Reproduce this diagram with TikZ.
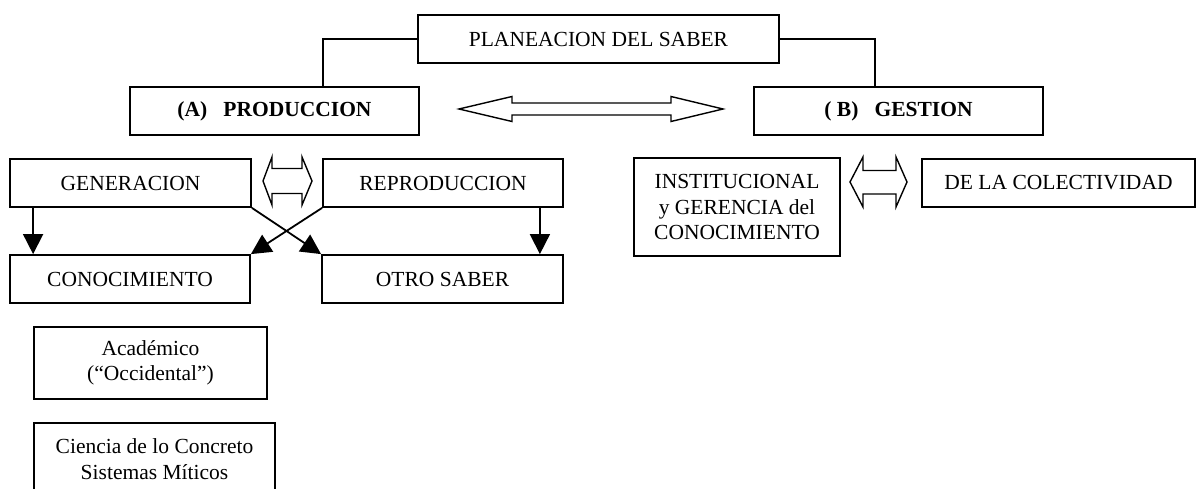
\documentclass[tikz,border=0pt]{standalone}
\usepackage{fontspec}
\setmainfont{Liberation Serif}
\usetikzlibrary{arrows.meta}
\tikzset{
  box/.style={draw, line width=1.8bp, inner sep=0pt, align=center,
    font=\fontsize{21.5bp}{25.5bp}\selectfont},
  link/.style={line width=1.8bp},
  downarrow/.style={line width=1.8bp, -{Triangle[length=20bp,width=20bp]}},
  blockarrow/.style={draw, line width=1.4bp, fill=white, line join=miter}
}
\begin{document}
\begin{tikzpicture}[x=1bp,y=-1bp]
\clip (0,0) rectangle (1198,489);
\fill[white] (0,0) rectangle (1198,489);

\node[box, minimum width=361bp, minimum height=48bp] (plan) at (598.5,39) {PLANEACION DEL SABER};
\node[box, minimum width=289bp, minimum height=48bp] (prod) at (274.5,111) {\bfseries (A)\ \ \ PRODUCCION};
\node[box, minimum width=289bp, minimum height=48bp] (gest) at (898.5,111) {\bfseries ( B)\ \ \ GESTION};

\node[box, minimum width=241bp, minimum height=48bp] (gen) at (130.5,183) {GENERACION};
\node[box, minimum width=240bp, minimum height=48bp] (rep) at (443,183) {REPRODUCCION};
\node[box, minimum width=240bp, minimum height=48bp] (cono) at (130,279) {CONOCIMIENTO};
\node[box, minimum width=241bp, minimum height=48bp] (otro) at (442.5,279) {OTRO SABER};
\node[box, minimum width=233bp, minimum height=72bp] (acad) at (150.5,363) {Académico\\(“Occidental”)};
\node[box, minimum width=241bp, minimum height=72bp] (cien) at (154.5,459) {Ciencia de lo Concreto\\Sistemas Míticos};

\node[box, minimum width=206bp, minimum height=98bp] (inst) at (737,207) {INSTITUCIONAL\\y GERENCIA del\\CONOCIMIENTO};
\node[box, minimum width=273bp, minimum height=48bp] (colec) at (1058.5,183) {DE LA COLECTIVIDAD};

% connectors from PLANEACION
\draw[link] (plan.west) -| ([xshift=48.5bp]prod.north);
\draw[link] (plan.east) -| ([xshift=-23.5bp]gest.north);

% down arrows
\draw[downarrow] ([xshift=24bp]gen.south west) -- ([xshift=24bp]cono.north west);
\draw[downarrow] ([xshift=-24bp]rep.south east) -- ([xshift=-24bp]otro.north east);
\draw[downarrow] (gen.south east) -- (otro.north west);
\draw[downarrow] (rep.south west) -- (cono.north east);

% big double block arrow between PRODUCCION and GESTION
\draw[blockarrow] (459,109) -- (512,96.5) -- (512,103) -- (671,103) -- (671,96.5)
  -- (723,109) -- (671,121.5) -- (671,115) -- (512,115) -- (512,121.5) -- cycle;

% small double block arrow between GENERACION and REPRODUCCION
\draw[blockarrow] (263,181) -- (272,157) -- (272,168.5) -- (302,168.5) -- (302,157)
  -- (312,181) -- (302,205) -- (302,193.5) -- (272,193.5) -- (272,205) -- cycle;

% small double block arrow between INSTITUCIONAL and COLECTIVIDAD
\draw[blockarrow] (850,182) -- (863,157) -- (863,170.5) -- (896,170.5) -- (896,157)
  -- (907,182) -- (896,207) -- (896,194) -- (863,194) -- (863,207) -- cycle;
\end{tikzpicture}
\end{document}
